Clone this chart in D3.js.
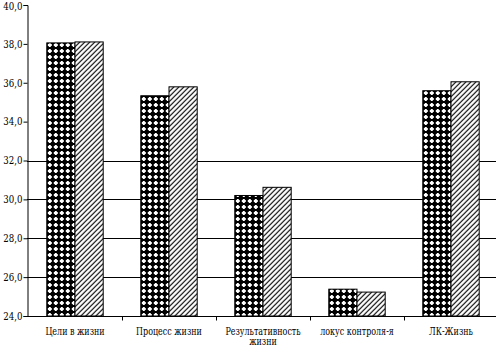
<!DOCTYPE html>
<html><head><meta charset="utf-8">
<script src="https://cdn.jsdelivr.net/npm/d3@7"></script>
<style>body{margin:0;background:#fff}svg{display:block}
text{font-family:"DejaVu Serif","Liberation Serif","Noto Serif",serif !important;}</style>
</head><body>
<script>
const categories = ["Цели в жизни", "Процесс жизни", "Результативность жизни", "локус контроля-я", "ЛК-Жизнь"];
const series1 = [38.05, 35.33, 30.2, 25.38, 35.59];
const series2 = [38.1, 35.79, 30.62, 25.23, 36.05];
const yTicks = [24, 26, 28, 30, 32, 34, 36, 38, 40];
const gridValues = [26, 28, 30, 32];

const W = 496, H = 348;
const svg = d3.select("body").append("svg").attr("width", W).attr("height", H);
const defs = svg.append("defs");
const p1 = defs.append("pattern").attr("id", "dots").attr("patternUnits", "userSpaceOnUse")
  .attr("width", 6).attr("height", 6);
p1.append("rect").attr("width", 6).attr("height", 6).attr("fill", "#000");
p1.append("rect").attr("x", 2).attr("y", 1).attr("width", 2).attr("height", 4).attr("fill", "#fff");
p1.append("rect").attr("x", 1).attr("y", 2).attr("width", 4).attr("height", 2).attr("fill", "#fff");
const p2 = defs.append("pattern").attr("id", "hatch").attr("patternUnits", "userSpaceOnUse")
  .attr("width", 5).attr("height", 5);
p2.append("rect").attr("width", 5).attr("height", 5).attr("fill", "#fff");
p2.append("path").attr("d", "M0,5L5,0M-1,1L1,-1M4,6L6,4").attr("stroke", "#000").attr("stroke-width", 1.2);

const x = d3.scaleBand().domain(categories).range([28, 498]).paddingInner(0.4).paddingOuter(0.2);
const xs = d3.scaleBand().domain([0, 1]).range([0, x.bandwidth()]);
const y = d3.scaleLinear().domain([24, 40]).range([316, 5]);

svg.append("g").selectAll("line").data(gridValues).join("line")
  .attr("x1", 27).attr("x2", W).attr("y1", d => Math.round(y(d)) + 0.5).attr("y2", d => Math.round(y(d)) + 0.5)
  .attr("stroke", "#000").attr("stroke-width", 1);

const groups = svg.append("g").selectAll("g").data(categories).join("g")
  .attr("transform", d => `translate(${x(d)},0)`);
groups.append("rect")
  .attr("x", 0).attr("width", xs.bandwidth())
  .attr("y", (d, i) => y(series1[i])).attr("height", (d, i) => y(24) - y(series1[i]))
  .attr("fill", "url(#dots)").attr("stroke", "#000").attr("stroke-width", 1);
groups.append("rect")
  .attr("x", xs(1)).attr("width", xs.bandwidth())
  .attr("y", (d, i) => y(series2[i])).attr("height", (d, i) => y(24) - y(series2[i]))
  .attr("fill", "url(#hatch)").attr("stroke", "#000").attr("stroke-width", 1);

const sx = 0.82;
const ya = svg.append("g").attr("transform", "translate(27.5,0)")
  .call(d3.axisLeft(y).tickValues(yTicks).tickSize(4).tickFormat(d => d3.format(".1f")(d).replace(".", ",")));
ya.attr("font-family", null);
ya.select(".domain").attr("stroke", "#000");
ya.selectAll("text").attr("font-size", 10.5).attr("fill", "#000").attr("x", -5 / sx)
  .attr("transform", `scale(${sx},1)`)
  .attr("dy", d => d === 40 ? "0.45em" : "0.32em");

const xa = svg.append("g").attr("transform", "translate(0,316.5)");
xa.append("line").attr("x1", 27).attr("x2", W).attr("stroke", "#000");
xa.selectAll(".tk").data(categories.slice(1)).join("line").attr("class", "tk")
  .attr("x1", d => Math.round(x(d) - x.step() * x.paddingInner() / 2) + 0.5)
  .attr("x2", d => Math.round(x(d) - x.step() * x.paddingInner() / 2) + 0.5)
  .attr("y1", 0).attr("y2", 4).attr("stroke", "#000");
const labels = xa.selectAll(".lbl").data(categories).join("text").attr("class", "lbl")
  .attr("text-anchor", "middle").attr("font-size", 10.5).attr("fill", "#000")
  .attr("transform", d => `translate(${x(d) + x.bandwidth() / 2},18) scale(0.76,1)`);
labels.each(function(d) {
  const parts = d === "Результативность жизни" ? ["Результативность", "жизни"] : [d];
  d3.select(this).selectAll("tspan").data(parts).join("tspan")
    .attr("x", 0).attr("dy", (p, i) => i ? 11 : 0).text(p => p);
});
</script>
</body></html>
